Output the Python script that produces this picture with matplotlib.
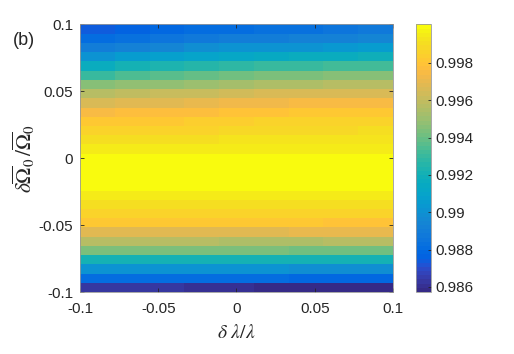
import numpy as np
import matplotlib
matplotlib.use("Agg")
from matplotlib import pyplot
from matplotlib.colors import ListedColormap

# fidelity map, rows from delta_Omega = 0.1 (top) down to -0.1 (bottom),
# columns from delta_lambda = -0.1 (left) to 0.1 (right)
fidelity = [
    [0.9874, 0.9876, 0.9878, 0.9880, 0.9881, 0.9883, 0.9884, 0.9886, 0.9887],
    [0.9881, 0.9883, 0.9885, 0.9887, 0.9889, 0.9890, 0.9892, 0.9893, 0.9894],
    [0.9890, 0.9893, 0.9895, 0.9898, 0.9900, 0.9901, 0.9902, 0.9904, 0.9905],
    [0.9902, 0.9905, 0.9908, 0.9910, 0.9913, 0.9914, 0.9916, 0.9917, 0.9919],
    [0.9917, 0.9920, 0.9923, 0.9925, 0.9928, 0.9929, 0.9930, 0.9932, 0.9933],
    [0.9931, 0.9934, 0.9937, 0.9939, 0.9942, 0.9943, 0.9944, 0.9945, 0.9946],
    [0.9945, 0.9947, 0.9949, 0.9951, 0.9953, 0.9954, 0.9955, 0.9956, 0.9957],
    [0.9957, 0.9959, 0.9961, 0.9962, 0.9964, 0.9965, 0.9966, 0.9966, 0.9967],
    [0.9967, 0.9968, 0.9969, 0.9971, 0.9972, 0.9973, 0.9974, 0.9974, 0.9975],
    [0.9975, 0.9976, 0.9977, 0.9978, 0.9979, 0.9980, 0.9981, 0.9981, 0.9982],
    [0.9981, 0.9982, 0.9982, 0.9983, 0.9984, 0.9985, 0.9986, 0.9986, 0.9987],
    [0.9986, 0.9986, 0.9987, 0.9987, 0.9988, 0.9988, 0.9989, 0.9989, 0.9990],
    [0.9990, 0.9990, 0.9991, 0.9991, 0.9992, 0.9992, 0.9992, 0.9993, 0.9993],
    [0.9994, 0.9994, 0.9994, 0.9995, 0.9995, 0.9995, 0.9996, 0.9996, 0.9996],
    [0.9999, 0.9999, 0.9999, 0.9999, 0.9999, 0.9999, 0.9999, 0.9999, 0.9999],
    [0.9999, 0.9999, 0.9999, 0.9999, 0.9999, 0.9999, 0.9999, 0.9999, 0.9999],
    [0.9999, 0.9999, 0.9999, 0.9999, 0.9999, 0.9999, 0.9999, 0.9999, 0.9999],
    [0.9999, 0.9999, 0.9999, 0.9999, 0.9999, 0.9999, 0.9999, 0.9999, 0.9999],
    [0.9995, 0.9995, 0.9995, 0.9995, 0.9995, 0.9995, 0.9994, 0.9994, 0.9994],
    [0.9991, 0.9991, 0.9991, 0.9991, 0.9991, 0.9991, 0.9991, 0.9991, 0.9991],
    [0.9987, 0.9987, 0.9987, 0.9987, 0.9987, 0.9987, 0.9986, 0.9986, 0.9986],
    [0.9982, 0.9982, 0.9982, 0.9981, 0.9981, 0.9981, 0.9981, 0.9980, 0.9980],
    [0.9969, 0.9969, 0.9968, 0.9968, 0.9968, 0.9969, 0.9970, 0.9970, 0.9971],
    [0.9957, 0.9957, 0.9956, 0.9956, 0.9955, 0.9955, 0.9955, 0.9956, 0.9956],
    [0.9944, 0.9944, 0.9943, 0.9943, 0.9943, 0.9943, 0.9942, 0.9942, 0.9942],
    [0.9922, 0.9922, 0.9921, 0.9921, 0.9920, 0.9920, 0.9920, 0.9920, 0.9920],
    [0.9900, 0.9900, 0.9900, 0.9900, 0.9900, 0.9900, 0.9899, 0.9899, 0.9899],
    [0.9881, 0.9881, 0.9880, 0.9880, 0.9880, 0.9880, 0.9879, 0.9879, 0.9878],
    [0.9864, 0.9863, 0.9862, 0.9861, 0.9860, 0.9859, 0.9858, 0.9858, 0.9857],
]
x_ticks = [-0.1, -0.05, 0, 0.05, 0.1]
x_labels = ['-0.1', '-0.05', '0', '0.05', '0.1']
y_labels = ['-0.1', '-0.05', '0', '0.05', '0.1']
cb_ticks = [0.986, 0.988, 0.99, 0.992, 0.994, 0.996, 0.998]
cb_labels = ['0.986', '0.988', '0.99', '0.992', '0.994', '0.996', '0.998']

# matlab parula
parula = ListedColormap([
    [0.2081, 0.1663, 0.5292], [0.2116, 0.1898, 0.5777], [0.2123, 0.2138, 0.6270],
    [0.2081, 0.2386, 0.6771], [0.1959, 0.2645, 0.7279], [0.1707, 0.2919, 0.7792],
    [0.1253, 0.3242, 0.8303], [0.0591, 0.3598, 0.8683], [0.0117, 0.3875, 0.8820],
    [0.0060, 0.4086, 0.8828], [0.0165, 0.4266, 0.8786], [0.0329, 0.4430, 0.8720],
    [0.0498, 0.4586, 0.8641], [0.0629, 0.4737, 0.8554], [0.0723, 0.4887, 0.8467],
    [0.0779, 0.5040, 0.8384], [0.0793, 0.5200, 0.8312], [0.0749, 0.5375, 0.8263],
    [0.0641, 0.5570, 0.8240], [0.0488, 0.5772, 0.8228], [0.0343, 0.5966, 0.8199],
    [0.0265, 0.6137, 0.8135], [0.0239, 0.6287, 0.8038], [0.0231, 0.6418, 0.7913],
    [0.0228, 0.6535, 0.7768], [0.0267, 0.6642, 0.7607], [0.0384, 0.6743, 0.7436],
    [0.0590, 0.6838, 0.7254], [0.0843, 0.6928, 0.7062], [0.1133, 0.7015, 0.6859],
    [0.1453, 0.7098, 0.6646], [0.1801, 0.7177, 0.6424], [0.2178, 0.7250, 0.6193],
    [0.2586, 0.7317, 0.5954], [0.3022, 0.7376, 0.5712], [0.3482, 0.7424, 0.5473],
    [0.3953, 0.7459, 0.5244], [0.4420, 0.7481, 0.5033], [0.4871, 0.7491, 0.4840],
    [0.5300, 0.7491, 0.4661], [0.5709, 0.7485, 0.4494], [0.6099, 0.7473, 0.4337],
    [0.6473, 0.7456, 0.4188], [0.6834, 0.7435, 0.4044], [0.7184, 0.7411, 0.3905],
    [0.7525, 0.7384, 0.3768], [0.7858, 0.7356, 0.3633], [0.8185, 0.7327, 0.3498],
    [0.8507, 0.7299, 0.3360], [0.8824, 0.7274, 0.3217], [0.9139, 0.7258, 0.3063],
    [0.9450, 0.7261, 0.2886], [0.9739, 0.7314, 0.2666], [0.9938, 0.7455, 0.2403],
    [0.9990, 0.7653, 0.2164], [0.9955, 0.7861, 0.1967], [0.9880, 0.8066, 0.1794],
    [0.9789, 0.8271, 0.1633], [0.9697, 0.8481, 0.1475], [0.9626, 0.8705, 0.1309],
    [0.9589, 0.8949, 0.1132], [0.9598, 0.9218, 0.0948], [0.9661, 0.9514, 0.0755],
    [0.9763, 0.9831, 0.0538]])

pyplot.rcParams['font.family'] = ['Liberation Sans', 'DejaVu Sans']
pyplot.rcParams['mathtext.fontset'] = 'stix'
gray = '#262626'

Z = np.array(fidelity)
n_rows, n_cols = Z.shape
x_edges = np.linspace(-0.1, 0.1, n_cols + 1)
y_edges = np.linspace(0.1, -0.1, n_rows + 1)

fig = pyplot.figure(figsize=(5.14, 3.54), dpi=100)
ax = fig.add_axes([0.1556, 0.1751, 0.6090, 0.7557])
cax = fig.add_axes([0.8093, 0.1751, 0.0292, 0.7557])

mesh = ax.pcolormesh(x_edges, y_edges, Z, cmap=parula, vmin=0.98573, vmax=1.00006,
                     shading='flat')
ax.set_xlim(-0.1, 0.1)
ax.set_ylim(-0.1, 0.1)
ax.set_xticks(x_ticks)
ax.set_xticklabels(x_labels)
ax.set_yticks(x_ticks)
ax.set_yticklabels(y_labels)
ax.tick_params(direction='in', length=3, width=0.6, labelsize=11, colors=gray,
               top=True, right=True)
ax.tick_params(axis='x', pad=7)
ax.tick_params(axis='y', pad=5)
for s in ax.spines.values():
    s.set_color('#999999')
    s.set_linewidth(0.6)
ax.set_xlabel(r'$\delta\ \lambda/\lambda$', fontsize=14, color=gray, labelpad=6)
ax.set_ylabel(r'$\delta\overline{\Omega}_0\,/\overline{\Omega}_0$', fontsize=15.5,
              color=gray, labelpad=1)

cb = fig.colorbar(mesh, cax=cax)
cb.set_ticks(cb_ticks)
cb.set_ticklabels(cb_labels)
cb.ax.tick_params(direction='in', length=2, width=0.6, labelsize=11, colors=gray, pad=3)
cb.outline.set_edgecolor('#999999')
cb.outline.set_linewidth(0.6)

fig.text(0.025, 0.872, '(b)', fontsize=13, color=gray)

pyplot.savefig('out.png', dpi=100)
